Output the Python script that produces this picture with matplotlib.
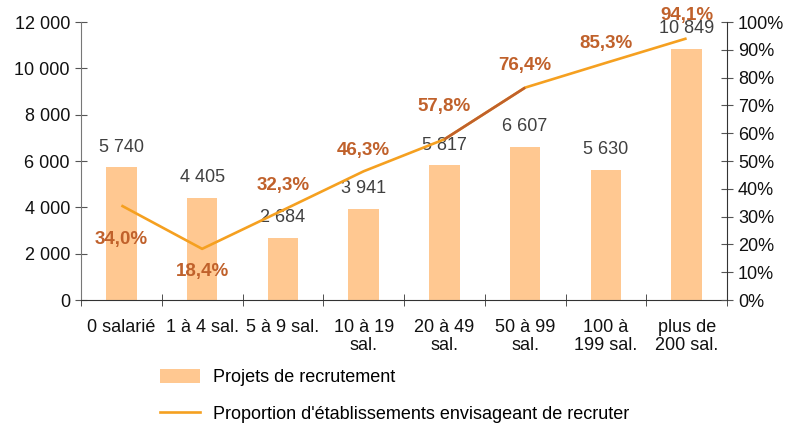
import matplotlib.pyplot as plt
import numpy as np
from matplotlib.lines import Line2D
from matplotlib.patches import Patch

plt.rcParams['font.family'] = ['Liberation Sans', 'DejaVu Sans']

# data
categories = ['0 salarié', '1 à 4 sal.', '5 à 9 sal.', '10 à 19\nsal.', '20 à 49\nsal.',
              '50 à 99\nsal.', '100 à\n199 sal.', 'plus de\n200 sal.']
projets = [5740, 4405, 2684, 3941, 5817, 6607, 5630, 10849]
proportion = [34.0, 18.4, 32.3, 46.3, 57.8, 76.4, 85.3, 94.1]

# label placement (pixels from the point, label centre)
pct_offsets = [-34, -23, 25, 21, 33, 22, 19, 23]

bar_color = '#FFC891'
line_color = '#F5A020'
dark_line = '#C0612B'
pct_color = '#C0612B'
text_color = '#404040'

def fmt_int(v):
    return f'{v:,}'.replace(',', ' ')

fig = plt.figure(figsize=(7.89, 4.23), dpi=100)
ax = fig.add_axes([81/789, 1-300/423, (727-81)/789, (300-22)/423])
ax2 = ax.twinx()

x = np.arange(len(categories))
ax.bar(x, projets, width=0.38, color=bar_color, zorder=1)
for xi, v in zip(x, projets):
    ax.annotate(fmt_int(v), (xi, v), xytext=(0, 20), textcoords='offset pixels',
                ha='center', va='center', fontsize=13, color=text_color)

ax2.plot(x, proportion, color=line_color, lw=1.9, solid_capstyle='butt', zorder=3)
ax2.plot(x[4:6], proportion[4:6], color=dark_line, lw=1.9, solid_capstyle='butt', zorder=4)
for xi, p, off in zip(x, proportion, pct_offsets):
    ax2.annotate(f'{p:.1f}%'.replace('.', ','), (xi, p), xytext=(0, off),
                 textcoords='offset pixels', ha='center', va='center', fontsize=13.5,
                 fontweight='bold', color=pct_color, zorder=5)

ax.set_xlim(-0.5, len(categories) - 0.5)
ax.set_ylim(0, 12000)
ax2.set_ylim(0, 100)
ax.set_yticks(np.arange(0, 12001, 2000))
ax.set_yticklabels([fmt_int(v) for v in range(0, 12001, 2000)])
ax2.set_yticks(np.arange(0, 101, 10))
ax2.set_yticklabels([f'{v}%' for v in range(0, 101, 10)])

ax.set_xticks(x)
ax.set_xticklabels(categories, fontsize=13, color='#111111', linespacing=1.05)
ax.tick_params(axis='x', length=0, pad=14)
ax.set_xticks(np.arange(-0.5, len(categories)), minor=True)
ax.tick_params(axis='x', which='minor', length=8, direction='inout', color='#333333')

for a in (ax, ax2):
    a.spines['top'].set_visible(False)
    a.tick_params(axis='y', direction='inout', length=8, labelsize=13,
                  color='#555555', labelcolor='#111111', pad=4)
ax.spines['right'].set_visible(False)
ax2.spines['left'].set_visible(False)
ax2.spines['bottom'].set_visible(False)
ax.spines['left'].set_color('#777777')
ax.spines['bottom'].set_color('#333333')
ax2.spines['right'].set_color('#333333')
ax.set_zorder(ax2.get_zorder() - 1)
ax2.patch.set_visible(False)

handles = [Patch(facecolor=bar_color, edgecolor='none'),
           Line2D([0], [0], color=line_color, lw=1.9)]
fig.legend(handles, ['Projets de recrutement', "Proportion d'établissements envisageant de recruter"],
           loc='upper left', bbox_to_anchor=(153/789, 1-362/423), frameon=False,
           fontsize=13, handlelength=2.2, handleheight=0.8, labelspacing=1.05,
           handletextpad=0.7, borderaxespad=0)

fig.savefig('out.png', dpi=100)
